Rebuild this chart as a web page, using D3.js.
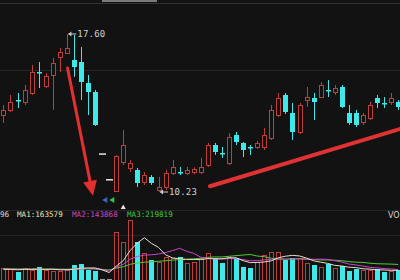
<!DOCTYPE html>
<html><head><meta charset="utf-8">
<script src="https://cdn.jsdelivr.net/npm/d3@7"></script>
<style>html,body{margin:0;padding:0;background:#111;overflow:hidden}</style>
</head><body><svg id="c" width="400" height="280"></svg>
<script>
// ---- data ----
const opens  = [13.82,14.06,14.54,14.43,14.85,15.85,15.17,15.69,16.53,16.71,16.39,16.29,15.31,14.90,12.00,10.80,10.28,11.63,11.35,11.26,10.70,10.93,10.32,10.46,11.12,11.18,11.12,11.14,11.16,11.49,12.42,12.03,11.58,12.89,12.52,12.35,12.33,12.33,12.75,13.82,14.75,13.92,13.03,14.52,14.62,14.66,15.01,14.90,15.13,13.92,13.92,13.50,13.68,14.62,14.40,14.43,14.43];
const highs  = [14.29,14.76,14.85,15.22,16.15,16.29,15.78,16.48,16.95,17.60,17.55,16.99,15.69,14.99,12.00,10.80,11.95,13.12,11.72,11.35,11.16,11.02,10.93,11.26,11.72,11.40,11.40,11.38,11.82,12.52,12.52,12.33,12.98,13.03,12.56,12.42,12.61,13.22,14.29,14.85,14.85,14.38,14.38,15.13,14.85,15.36,15.45,15.22,15.22,14.29,14.06,13.92,14.43,14.76,14.66,14.85,14.52];
const lows   = [13.45,13.96,14.15,14.29,14.76,15.08,15.08,14.06,15.83,16.68,15.60,14.52,13.82,13.31,12.00,10.80,10.25,11.49,11.16,10.46,10.56,10.56,10.23,10.32,11.02,11.02,11.02,11.05,11.07,11.40,11.96,11.82,11.49,12.42,11.86,11.96,12.24,12.19,12.66,13.73,13.87,12.66,12.94,14.20,13.59,14.62,14.66,14.76,14.15,13.36,13.26,13.36,13.59,14.15,14.15,14.29,14.06];
const closes = [14.06,14.43,14.50,14.99,15.83,15.81,15.64,16.25,16.76,16.95,16.06,15.36,14.90,13.36,12.00,10.80,11.90,12.42,11.58,10.65,11.02,10.65,10.46,11.12,11.40,11.14,11.26,11.28,11.40,12.42,12.10,11.99,12.80,12.56,12.19,12.31,12.52,12.89,14.06,14.62,13.96,13.03,14.29,14.66,14.43,15.22,14.97,15.08,14.20,13.45,13.36,13.82,14.29,14.38,14.36,14.62,14.20];
const volumes = [174000,164000,131000,174000,153000,185000,153000,142000,142000,153000,207000,218000,153000,142000,55000,55000,567000,458000,698000,458000,338000,262000,240000,294000,284000,294000,229000,240000,284000,338000,284000,229000,294000,284000,185000,174000,240000,316000,349000,349000,262000,284000,284000,229000,207000,185000,218000,174000,196000,142000,164000,153000,153000,164000,131000,142000,153000];
const ma1 = [160,160,155,160,159,161,159,161,155,155,159,172,175,175,155,125,194,255,367,447,504,443,399,318,284,275,268,268,266,277,275,275,286,286,255,233,235,240,253,286,303,312,306,282,253,238,225,203,196,183,179,166,162,155,153,149,149];
const ma2 = [160,160,160,160,160,160,158,158,157,157,160,166,168,165,155,142,183,215,271,301,314,319,327,343,365,389,356,334,292,280,275,272,277,276,266,254,255,263,269,270,268,274,273,267,269,271,268,254,239,218,208,195,182,176,168,164,157];
const ma3 = [166,165,164,164,164,165,164,163,162,161,163,166,165,164,159,153,173,188,215,229,237,242,248,254,260,266,270,274,282,291,295,295,302,309,316,322,305,298,281,275,272,273,275,272,268,262,262,259,254,244,238,235,227,221,219,217,213];
const maUnit = 1000;
const flatDays = [14, 15];          // one-price limit-down days
const highLabel = "17.60", lowLabel = "10.23";
const highIdx = 9, lowIdx = 22;
const headerTexts = [["96","#d8d8d8"],["MA1:163579","#e6e6b4"],["MA2:143868","#c846c8"],["MA3:219819","#3cc83c"]];
// annotation arrows in data units [index, price]
const arrow1 = [[9.1, 16.01], [12.7, 10.05]];
const arrow2 = [[29.3, 10.50], [58.0, 13.34]];

// ---- drawing ----
const RED = "#bb3f3a", CYAN = "#3fe9ea", BG = "#121212";
const svg = d3.select("#c");
svg.append("rect").attr("width",400).attr("height",280).attr("fill",BG);
svg.append("rect").attr("x",102).attr("y",0).attr("width",55).attr("height",2).attr("fill","#7a7a7a");

[3,70,210,235].forEach(g=>svg.append("line").attr("x1",0).attr("x2",400).attr("y1",g+0.5).attr("y2",g+0.5)
  .attr("stroke", g===3 ? "#333" : "#262626").attr("stroke-width",1));

const n = opens.length;
const x = d3.scaleLinear().domain([0, n-1]).range([3.4, 398.2]);
const y = d3.scaleLinear().domain([10.23, 17.60]).range([192, 34]);
const yv = d3.scaleLinear().domain([0, 700000]).range([284, 219.8]);
const xi = i => Math.round(x(i));
const isFlat = i => flatDays.includes(i);
const up = i => closes[i] >= opens[i];

// volume bars
const vg = svg.append("g");
d3.range(n).forEach(i=>{
  const top = yv(volumes[i]), bot = yv(0);
  if (isFlat(i)) {
    vg.append("rect").attr("x",xi(i)-2).attr("y",top).attr("width",5).attr("height",bot-top).attr("fill","#9a9a9a");
  } else if (up(i)) {
    vg.append("rect").attr("x",xi(i)-1.5).attr("y",Math.round(top)+0.5).attr("width",4).attr("height",bot-top)
      .attr("fill","none").attr("stroke",RED).attr("stroke-width",1);
  } else {
    vg.append("rect").attr("x",xi(i)-2).attr("y",Math.round(top)).attr("width",5).attr("height",bot-top).attr("fill",CYAN);
  }
});
// MA lines
const maLine = d3.line().x((d,i)=>x(i)).y(d=>yv(d*maUnit));
[[ma3,"#52c83a"],[ma2,"#c846c8"],[ma1,"#e8dccb"]].forEach(([arr,c])=>{
  svg.append("path").attr("d",maLine(arr)).attr("fill","none").attr("stroke",c).attr("stroke-width",1);
});

// candles
const cg = svg.append("g");
d3.range(n).forEach(i=>{
  const cx = xi(i);
  if (isFlat(i)) {
    cg.append("line").attr("x1",cx-3).attr("x2",cx+4).attr("y1",y(closes[i])).attr("y2",y(closes[i]))
      .attr("stroke","#e6e6e6").attr("stroke-width",1.5);
    return;
  }
  const c = up(i) ? RED : CYAN;
  cg.append("line").attr("x1",cx+0.5).attr("x2",cx+0.5).attr("y1",y(highs[i])).attr("y2",y(lows[i]))
    .attr("stroke",c).attr("stroke-width",1);
  const yt = y(Math.max(opens[i],closes[i])), yb = y(Math.min(opens[i],closes[i]));
  const h = Math.max(1, yb-yt);
  if (up(i)) {
    cg.append("rect").attr("x",cx-1.5).attr("y",Math.round(yt)+0.5).attr("width",4).attr("height",Math.max(1,Math.round(h)))
      .attr("fill",BG).attr("stroke",c).attr("stroke-width",1);
  } else {
    cg.append("rect").attr("x",cx-2).attr("y",Math.round(yt)).attr("width",5).attr("height",Math.max(1.5,Math.round(h)))
      .attr("fill",c);
  }
});

// high / low labels
function label(i, p, txt) {
  const px = x(i) + 1.5, py = y(p);
  svg.append("line").attr("x1",px).attr("x2",px+8).attr("y1",py).attr("y2",py).attr("stroke","#cfcfcf").attr("stroke-width",1);
  svg.append("path").attr("d",`M${px},${py}l3,-2.5l0,5z`).attr("fill","#cfcfcf");
  svg.append("text").attr("x",px+9).attr("y",py+3.3).text(txt)
    .attr("font-family","DejaVu Sans Mono, monospace").attr("font-size",9).attr("fill","#d0d0d0").attr("letter-spacing",0.2);
}
label(highIdx, highs[highIdx], highLabel);
label(lowIdx, lows[lowIdx], lowLabel);

// markers under the limit-down days
const mk = svg.append("g");
mk.append("path").attr("d",`M${x(14.45)-3},200l5,-3l0,6z`).attr("fill","#3a64c8");
mk.append("path").attr("d",`M${x(15.45)-3},200l5,-3l0,6z`).attr("fill","#35c445");
mk.append("path").attr("d",`M${x(17)-2.5},209l2.5,-4.5l2.5,4.5z`).attr("fill","#e8e8e8");

// red arrows
const ap = d => [x(d[0]), y(d[1])];
(function(){
  const [s, t] = arrow1.map(ap);
  const ang = Math.atan2(t[1]-s[1], t[0]-s[0]);
  const L = 15, Wd = 7;
  const b = [t[0]-L*Math.cos(ang), t[1]-L*Math.sin(ang)];
  const nx = -Math.sin(ang), ny = Math.cos(ang);
  svg.append("line").attr("x1",s[0]).attr("y1",s[1]).attr("x2",b[0]).attr("y2",b[1])
    .attr("stroke","#e23030").attr("stroke-width",3).attr("stroke-linecap","round");
  svg.append("path").attr("d",`M${t[0]},${t[1]}L${b[0]+nx*Wd},${b[1]+ny*Wd}L${b[0]-nx*Wd},${b[1]-ny*Wd}Z`).attr("fill","#e23030");
})();
(function(){
  const [s, t] = arrow2.map(ap);
  svg.append("line").attr("x1",s[0]).attr("y1",s[1]).attr("x2",t[0]).attr("y2",t[1])
    .attr("stroke","#e03232").attr("stroke-width",4).attr("stroke-linecap","round");
})();

// volume header
const hxs = [0, 17, 72, 127];
headerTexts.forEach(([t,c],k)=>{
  svg.append("text").attr("x",hxs[k]).attr("y",217).text(t)
    .attr("font-family","DejaVu Sans Mono, monospace").attr("font-size",7.6).attr("fill",c);
});
svg.append("text").attr("x",388).attr("y",218).text("VO")
  .attr("font-family","DejaVu Sans, sans-serif").attr("font-size",8).attr("fill","#d0d0d0");
</script>
</body></html>
